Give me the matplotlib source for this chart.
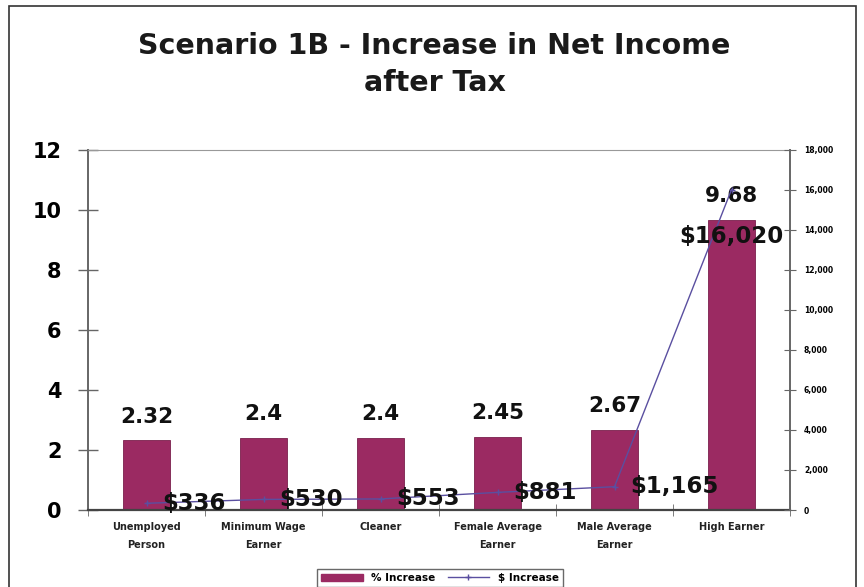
import matplotlib
matplotlib.use("Agg")
import matplotlib.pyplot as plt
from matplotlib.patches import Rectangle
from matplotlib.lines import Line2D
import numpy as np

categories = ["Unemployed\nPerson", "Minimum Wage\nEarner", "Cleaner",
              "Female Average\nEarner", "Male Average\nEarner", "High Earner"]
pct_increase = [2.32, 2.4, 2.4, 2.45, 2.67, 9.68]
pct_labels = ["2.32", "2.4", "2.4", "2.45", "2.67", "9.68"]
dollar_increase = [336, 530, 553, 881, 1165, 16020]
dollar_labels = ["$336", "$530", "$553", "$881", "$1,165", "$16,020"]

bar_color = "#9B2A62"
line_color = "#5A4FA0"

fig = plt.figure(figsize=(8.64, 5.87), dpi=100)
fig.patches.append(Rectangle((9 / 864, -0.05), 847 / 864, 1 - 6 / 587 + 0.05,
                             transform=fig.transFigure, fill=False,
                             edgecolor="#333333", linewidth=1.2))

ax = fig.add_axes([88 / 864, 77 / 587, 702 / 864, 360 / 587])
x = np.arange(len(categories))
ax.bar(x, pct_increase, width=0.41, color=bar_color, edgecolor="#7a1f4c", linewidth=0.6, zorder=2)
for xi, v, lab in zip(x, pct_increase, pct_labels):
    ax.annotate(lab, (xi, v), xytext=(0, 10), textcoords="offset points",
                ha="center", va="bottom", fontsize=15.5, fontweight="bold", color="#111111", zorder=5)

ax.set_xlim(-0.5, len(categories) - 0.5)
ax.set_ylim(0, 12)
ax.set_yticks(range(0, 13, 2))
ax.tick_params(axis="y", direction="inout", length=14, width=1, color="#666666",
               labelsize=15, pad=12)
for t in ax.get_yticklabels():
    t.set_fontweight("bold")
ax.set_xticks(x)
ax.set_xticklabels(categories, fontsize=7, fontweight="bold", color="#222222", linespacing=1.9)
ax.tick_params(axis="x", length=0, pad=9)
ax.set_xticks(np.arange(-0.5, len(categories) + 0.5, 1), minor=True)
ax.tick_params(axis="x", which="minor", direction="inout", length=8, color="#666666")
ax.spines["left"].set_color("#666666")
ax.spines["left"].set_linewidth(1.4)
ax.spines["bottom"].set_color("#444444")
ax.spines["bottom"].set_linewidth(1.6)
ax.spines["top"].set_color("#999999")
ax.spines["right"].set_visible(False)

ax2 = ax.twinx()
ax2.plot(x, dollar_increase, color=line_color, linewidth=1, marker="+", markersize=5, zorder=4)
ax2.set_ylim(0, 18000)
ax2.set_yticks(range(0, 18001, 2000))
ax2.set_yticklabels([f"{v:,}" for v in range(0, 18001, 2000)], fontsize=5.5, fontweight="bold")
ax2.tick_params(axis="y", direction="inout", length=8, color="#666666", pad=6)
ax2.spines["right"].set_color("#666666")
ax2.spines["right"].set_linewidth(1.4)
for s in ["left", "top", "bottom"]:
    ax2.spines[s].set_visible(False)
for xi, v, lab in zip(x[:-1], dollar_increase[:-1], dollar_labels[:-1]):
    ax2.annotate(lab, (xi, v), xytext=(11, 0), textcoords="offset points",
                 ha="left", va="center", fontsize=16.5, fontweight="bold", color="#111111", zorder=5)
ax2.annotate(dollar_labels[-1], (x[-1], dollar_increase[-1]), xytext=(0, -34),
             textcoords="offset points", ha="center", va="center",
             fontsize=16.5, fontweight="bold", color="#111111", zorder=5)

fig.text(0.503, 0.922, "Scenario 1B - Increase in Net Income", ha="center", va="center",
         fontsize=20.5, fontweight="bold", color="#1a1a1a")
fig.text(0.503, 0.859, "after Tax", ha="center", va="center",
         fontsize=20.5, fontweight="bold", color="#1a1a1a")

handles = [Rectangle((0, 0), 1, 1, color=bar_color),
           Line2D([0], [0], color=line_color, linewidth=1, marker="+", markersize=5)]
leg = fig.legend(handles, ["% Increase", "$ Increase"], loc="upper center",
                 bbox_to_anchor=(0.509, 0.04), ncol=2, frameon=True, fancybox=False,
                 prop={"size": 7.5, "weight": "bold"}, handlelength=4, columnspacing=1.2,
                 borderpad=0.4)
leg.get_frame().set_edgecolor("#444444")

fig.savefig("out.png", dpi=100)
